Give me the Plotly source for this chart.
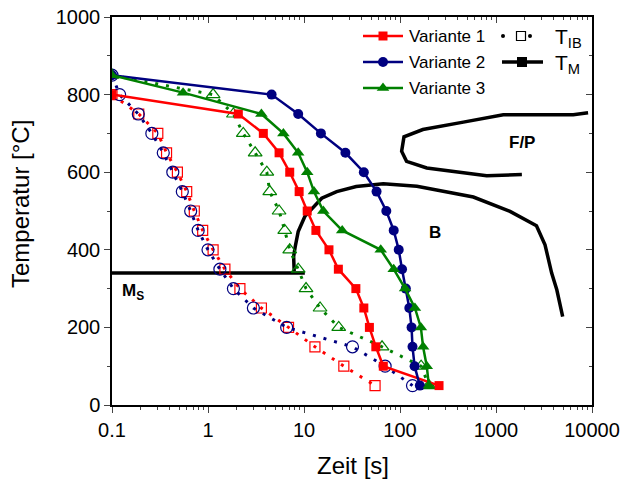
import plotly.graph_objects as go
import math

# ---------------- data ----------------
levels_850 = [850, 800, 750, 700, 650, 600, 550, 500, 450, 400, 350, 300, 250, 200, 150, 100, 50]
levels_800 = [800, 750, 700, 650, 600, 550, 500, 450, 400, 350, 300, 250, 200, 150, 100, 50]

# Variante 1 (T_M, solid, filled squares)
v1_t = [0.1, 2.07, 3.77, 5.5, 7.1, 8.9, 10.8, 13.3, 18.2, 22.8, 34.7, 42, 48, 56, 67, 255]
v1_T = levels_800
# Variante 2 (T_M, solid, filled circles)
v2_t = [0.1, 4.6, 8.7, 15, 27, 42, 57, 72, 86, 97, 105, 115, 125, 132, 135, 142, 161]
v2_T = levels_850
# Variante 3 (T_M, solid, filled triangles)
v3_t = [0.1, 0.55, 3.6, 6.1, 8.7, 10.8, 12.7, 15.9, 25, 63, 86, 113, 143, 165, 174, 190, 200]
v3_T = [850, 805, 750, 700, 650, 600, 550, 500, 450, 400, 350, 300, 250, 200, 150, 100, 50]

# T_IB (dotted, open markers)
ib1_t = [0.1, 0.19, 0.30, 0.37, 0.48, 0.60, 0.72, 0.88, 1.13, 1.5, 2.15, 3.6, 6.9, 13, 26, 55]
ib1_T = levels_800
ib2_t = [0.1, 0.12, 0.188, 0.26, 0.342, 0.43, 0.54, 0.66, 0.79, 1.0, 1.33, 1.84, 2.97, 6.6, 32, 70, 135]
ib2_T = levels_850
ib3_t = [0.1, 1.13, 1.84, 2.33, 3.1, 4.1, 4.4, 5.5, 6.3, 7.1, 8.7, 10.5, 14.7, 23, 65, 166, 200]
ib3_T = levels_850

# ZTU curves (black)
ms_t = [0.1, 10.2]
ms_T = [340, 340]
b_t = [7.9, 7.8, 8.1, 8.7, 10.2, 15.3, 21.9, 35, 67, 150, 581, 1400, 2640, 3240, 3800, 4300, 4950]
b_T = [345, 383, 408, 447, 486, 533, 550, 563, 570, 564, 536, 499, 462, 413, 340, 297, 228]
fp_t = [9100, 6380, 2460, 1190, 457, 173, 110, 104, 117, 190, 800, 1860]
fp_T = [753, 748, 748, 748, 729, 710, 691, 654, 628, 611, 591, 594]

x_tickvals = [0.1, 1, 10, 100, 1000, 10000]
x_ticktext = ["0.1", "1", "10", "100", "1000", "10000"]
y_tickvals = [0, 200, 400, 600, 800, 1000]

RED = "#FF0000"
BLUE = "#000080"
GREEN = "#008000"
FONT = "Liberation Sans, Arial, sans-serif"

minor_x = [k * 10 ** e for e in range(-1, 4) for k in range(2, 10)]

fig = go.Figure()

# black curves
for tx, ty in [(ms_t, ms_T), (b_t, b_T), (fp_t, fp_T)]:
    fig.add_trace(go.Scatter(x=tx, y=ty, mode="lines",
                             line=dict(color="black", width=3.5), showlegend=False))

DOT = "3px,8px"
# T_IB dotted series
fig.add_trace(go.Scatter(x=ib1_t, y=ib1_T, mode="lines+markers",
                         line=dict(color=RED, width=3, dash=DOT),
                         marker=dict(symbol="square-open", size=10, color=RED, line=dict(width=1.2)),
                         showlegend=False))
fig.add_trace(go.Scatter(x=ib2_t, y=ib2_T, mode="lines+markers",
                         line=dict(color=BLUE, width=3, dash=DOT),
                         marker=dict(symbol="circle-open", size=12, color=BLUE, line=dict(width=1.2)),
                         showlegend=False))
fig.add_trace(go.Scatter(x=ib3_t, y=ib3_T, mode="lines+markers",
                         line=dict(color=GREEN, width=3, dash=DOT),
                         marker=dict(symbol="triangle-up-open", size=12, color=GREEN, line=dict(width=1.2)),
                         showlegend=False))

# T_M solid series
fig.add_trace(go.Scatter(x=v1_t, y=v1_T, mode="lines+markers",
                         line=dict(color=RED, width=2.5),
                         marker=dict(symbol="square", size=9, color=RED), showlegend=False))
fig.add_trace(go.Scatter(x=v2_t, y=v2_T, mode="lines+markers",
                         line=dict(color=BLUE, width=2.5),
                         marker=dict(symbol="circle", size=10, color=BLUE), showlegend=False))
fig.add_trace(go.Scatter(x=v3_t, y=v3_T, mode="lines+markers",
                         line=dict(color=GREEN, width=2.5),
                         marker=dict(symbol="triangle-up", size=11, color=GREEN), showlegend=False))

# ------------- custom legend on a pixel overlay axis -------------
leg = [
    (36, RED, "square", 9),
    (62, BLUE, "circle", 10),
    (88, GREEN, "triangle-up", 11),
]
for yy, col, sym, sz in leg:
    fig.add_trace(go.Scatter(x=[363, 383, 403], y=[yy, yy, yy], mode="lines",
                             line=dict(color=col, width=2.5), xaxis="x2", yaxis="y2",
                             showlegend=False, hoverinfo="skip"))
    fig.add_trace(go.Scatter(x=[383], y=[yy], mode="markers",
                             marker=dict(symbol=sym, size=sz, color=col), xaxis="x2", yaxis="y2",
                             showlegend=False, hoverinfo="skip"))
fig.add_trace(go.Scatter(x=[503, 530], y=[36, 36], mode="markers",
                         marker=dict(symbol="circle", size=4, color="black"), xaxis="x2", yaxis="y2",
                         showlegend=False, hoverinfo="skip"))
fig.add_trace(go.Scatter(x=[521], y=[36], mode="markers",
                         marker=dict(symbol="square-open", size=9, color="black", line=dict(width=1.2)),
                         xaxis="x2", yaxis="y2", showlegend=False, hoverinfo="skip"))
fig.add_trace(go.Scatter(x=[502, 543], y=[62, 62], mode="lines",
                         line=dict(color="black", width=3.5), xaxis="x2", yaxis="y2",
                         showlegend=False, hoverinfo="skip"))
fig.add_trace(go.Scatter(x=[522], y=[62], mode="markers",
                         marker=dict(symbol="square", size=10, color="black"), xaxis="x2", yaxis="y2",
                         showlegend=False, hoverinfo="skip"))

# invisible trace for mirror axes
fig.add_trace(go.Scatter(x=[1], y=[500], mode="markers", marker=dict(opacity=0),
                         xaxis="x3", yaxis="y3", showlegend=False, hoverinfo="skip"))

ann = []
for yy, txt in [(36, "Variante 1"), (62, "Variante 2"), (88, "Variante 3")]:
    ann.append(dict(x=407, y=yy, xref="x2", yref="y2", text=txt, showarrow=False,
                    xanchor="left", yanchor="middle", font=dict(size=17, family=FONT, color="black")))
ann.append(dict(x=553, y=38, xref="x2", yref="y2", text="T<sub>IB</sub>", showarrow=False,
                xanchor="left", yanchor="middle", font=dict(size=21, family=FONT, color="black")))
ann.append(dict(x=553, y=64, xref="x2", yref="y2", text="T<sub>M</sub>", showarrow=False,
                xanchor="left", yanchor="middle", font=dict(size=21, family=FONT, color="black")))

# region labels
ann.append(dict(x=math.log10(1850), y=676, xref="x", yref="y", text="<b>F/P</b>", showarrow=False,
                font=dict(size=17, family=FONT, color="black")))
ann.append(dict(x=math.log10(230), y=444, xref="x", yref="y", text="<b>B</b>", showarrow=False,
                font=dict(size=17, family=FONT, color="black")))
ann.append(dict(x=math.log10(0.1), y=290, xref="x", yref="y", text="<b>M<sub>S</sub></b>", showarrow=False,
                xanchor="left", xshift=8, font=dict(size=17, family=FONT, color="black")))

# axis titles
ann.append(dict(x=(353 - 112) / 480, y=-(466 - 405) / 388, xref="paper", yref="paper", text="Zeit [s]",
                showarrow=False, xanchor="center", yanchor="middle",
                font=dict(size=24, family=FONT, color="black")))
ann.append(dict(x=(21 - 112) / 480, y=(405 - 204) / 388, xref="paper", yref="paper",
                text="Temperatur [°C]", textangle=-90, showarrow=False, xanchor="center", yanchor="middle",
                font=dict(size=24, family=FONT, color="black")))

fig.update_layout(
    width=624, height=481,
    margin=dict(l=112, r=32, t=17, b=76, autoexpand=False),
    paper_bgcolor="white", plot_bgcolor="white",
    font=dict(family=FONT, color="black"),
    annotations=ann,
    xaxis=dict(type="log", range=[-1, 4], tickmode="array", tickvals=x_tickvals, ticktext=x_ticktext,
               ticks="outside", ticklen=6, tickwidth=1.3, showline=True, linewidth=1.5, linecolor="black",
               showgrid=False, zeroline=False, tickfont=dict(size=20, family=FONT), automargin=False,
               ticklabeloverflow="allow",
               minor=dict(tickmode="array", tickvals=minor_x, ticks="outside", ticklen=3, tickwidth=1.3,
                          showgrid=False)),
    yaxis=dict(range=[0, 1000], tickmode="array", tickvals=y_tickvals,
               ticks="outside", ticklen=6, tickwidth=1.3, showline=True, linewidth=1.5, linecolor="black",
               showgrid=False, zeroline=False, tickfont=dict(size=20, family=FONT), automargin=False,
               ticklabeloverflow="allow",
               minor=dict(dtick=100, ticks="outside", ticklen=3, tickwidth=1.3, showgrid=False)),
    xaxis2=dict(overlaying="x", range=[112, 592], visible=False, anchor="y2", automargin=False),
    yaxis2=dict(overlaying="y", range=[405, 17], visible=False, anchor="x2", automargin=False),
    xaxis3=dict(overlaying="x", side="top", anchor="y3", type="log", range=[-1, 4], tickmode="array",
                tickvals=x_tickvals, showticklabels=False, ticks="inside", ticklen=6, tickwidth=1.3,
                showline=True, linewidth=1.5, linecolor="black", showgrid=False, zeroline=False,
                automargin=False,
                minor=dict(tickmode="array", tickvals=minor_x, ticks="inside", ticklen=3, tickwidth=1.3,
                           showgrid=False)),
    yaxis3=dict(overlaying="y", side="right", anchor="x3", range=[0, 1000], tickmode="array",
                tickvals=y_tickvals, showticklabels=False, ticks="inside", ticklen=6, tickwidth=1.3,
                showline=True, linewidth=1.5, linecolor="black", showgrid=False, zeroline=False,
                automargin=False,
                minor=dict(dtick=100, ticks="inside", ticklen=3, tickwidth=1.3, showgrid=False)),
)

# remove the browser's default 8px body margin so the figure fills the window exactly
fig.write_html("out.html", config={"displayModeBar": False},
               post_script="document.body.style.margin='0px';")
